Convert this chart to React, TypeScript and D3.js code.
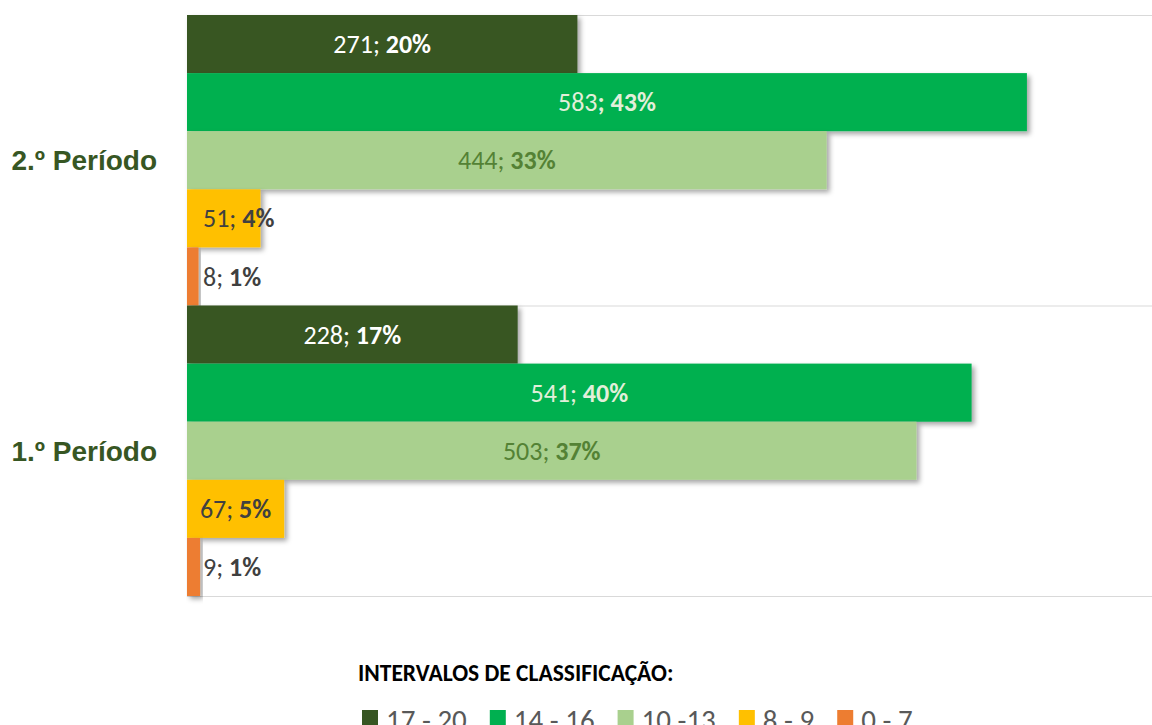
import React, { useEffect, useRef } from "react";
import * as d3 from "d3";

const categories = ["2.º Período", "1.º Período"];
const series = ["17 - 20", "14 - 16", "10 -13", "8 - 9", "0 - 7"];
const colors = ["#375623", "#00B050", "#A9D08E", "#FFC000", "#ED7D31"];
const labelColors = ["#FFFFFF", "#E2EFDA", "#548235", "#404040", "#404040"];
const period2 = [271, 583, 444, 51, 8];
const period1 = [228, 541, 503, 67, 9];
const percents2 = ["20%", "43%", "33%", "4%", "1%"];
const percents1 = ["17%", "40%", "37%", "5%", "1%"];
const boldSemicolon2 = [false, true, false, false, false];
const boldSemicolon1 = [false, false, false, false, false];
const legendTitle = "INTERVALOS DE CLASSIFICAÇÃO:";

const W = 1152;
const H = 725;
const FONT = "Carlito, Calibri, Lato, 'Open Sans', sans-serif";

export default function App() {
  const ref = useRef<SVGSVGElement | null>(null);

  useEffect(() => {
    const svg = d3.select(ref.current);
    svg.selectAll("*").remove();

    const defs = svg.append("defs");
    const f = defs
      .append("filter")
      .attr("id", "shadow")
      .attr("x", "-5%")
      .attr("y", "-20%")
      .attr("width", "120%")
      .attr("height", "160%");
    f.append("feDropShadow")
      .attr("dx", 3)
      .attr("dy", 3)
      .attr("stdDeviation", 2.5)
      .attr("flood-color", "#000")
      .attr("flood-opacity", 0.35);

    const left = 187;
    const right = 1152;
    const top = 15;
    const bottom = 596;

    const y0 = d3.scaleBand<string>().domain(categories).range([top, bottom]).padding(0);
    const y1 = d3.scaleBand<string>().domain(series).range([0, y0.bandwidth()]).padding(0);
    const x = d3.scaleLinear().domain([0, 0.5]).range([left, left + 977.5]);

    const data = [
      { cat: categories[0], values: period2, pct: percents2, bs: boldSemicolon2 },
      { cat: categories[1], values: period1, pct: percents1, bs: boldSemicolon1 },
    ];

    // gridlines (category boundaries)
    const bounds = [top, ...categories.map((c) => (y0(c) as number) + y0.bandwidth())];
    svg
      .append("g")
      .selectAll("line")
      .data(bounds)
      .join("line")
      .attr("x1", left)
      .attr("x2", right)
      .attr("y1", (d) => d + 0.5)
      .attr("y2", (d) => d + 0.5)
      .attr("stroke", "#D9D9D9")
      .attr("stroke-width", 1);

    // bars
    data.forEach((g) => {
      const total = d3.sum(g.values);
      const gg = svg.append("g").attr("transform", `translate(0,${y0(g.cat)})`);
      g.values.forEach((v, i) => {
        gg.append("rect")
          .attr("x", left)
          .attr("y", y1(series[i]) as number)
          .attr("width", x(v / total) - left)
          .attr("height", y1.bandwidth())
          .attr("fill", colors[i])
          .attr("filter", "url(#shadow)");
      });
    });

    // labels
    data.forEach((g) => {
      const total = d3.sum(g.values);
      const gg = svg.append("g").attr("transform", `translate(0,${y0(g.cat)})`);
      g.values.forEach((v, i) => {
        const barW = x(v / total) - left;
        const t = gg
          .append("text")
          .attr("y", (y1(series[i]) as number) + y1.bandwidth() / 2)
          .attr("dy", "0.35em")
          .attr("font-family", FONT)
          .attr("font-size", 26)
          .attr("fill", labelColors[i]);
        if (g.bs[i]) {
          t.append("tspan").text(String(v));
          t.append("tspan").attr("font-weight", "bold").text("; " + g.pct[i]);
        } else {
          t.append("tspan").text(String(v) + "; ");
          t.append("tspan").attr("font-weight", "bold").text(g.pct[i]);
        }
        const tw = (t.node() as SVGTextElement).getComputedTextLength();
        if (barW > tw + 14) {
          t.attr("x", left + barW / 2).attr("text-anchor", "middle");
        } else {
          t.attr("x", left + 16).attr("text-anchor", "start");
        }
      });
    });

    // category labels
    svg
      .append("g")
      .selectAll("text")
      .data(categories)
      .join("text")
      .attr("x", 157)
      .attr("y", (d) => (y0(d) as number) + y0.bandwidth() / 2)
      .attr("dy", "0.36em")
      .attr("text-anchor", "end")
      .attr("font-family", "'Liberation Sans', Arial, sans-serif")
      .attr("font-weight", "bold")
      .attr("font-size", 28)
      .attr("fill", "#375623")
      .text((d) => d);

    // legend
    svg
      .append("text")
      .attr("x", 358)
      .attr("y", 681)
      .attr("font-family", FONT)
      .attr("font-weight", "bold")
      .attr("font-size", 23.5)
      .attr("fill", "#000")
      .text(legendTitle);

    const lg = svg.append("g");
    let cx = 362;
    series.forEach((s, i) => {
      lg.append("rect")
        .attr("x", cx)
        .attr("y", 710)
        .attr("width", 16)
        .attr("height", 16)
        .attr("fill", colors[i]);
      const t = lg
        .append("text")
        .attr("x", cx + 24)
        .attr("y", 730)
        .attr("font-family", FONT)
        .attr("font-size", 29)
        .attr("fill", "#595959")
        .text(s);
      const tw = (t.node() as SVGTextElement).getComputedTextLength();
      cx = cx + 24 + tw + 23;
    });
  }, []);

  return (
    <svg
      ref={ref}
      width={W}
      height={H}
      style={{ position: "absolute", left: 0, top: 0, background: "#fff" }}
    />
  );
}
